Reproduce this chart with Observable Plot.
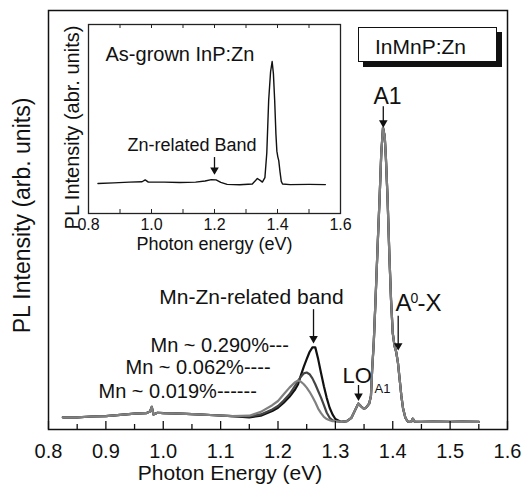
<!DOCTYPE html>
<html>
<head>
<meta charset="utf-8">
<script src="https://cdn.jsdelivr.net/npm/d3@7"></script>
<script src="https://cdn.jsdelivr.net/npm/@observablehq/plot@0.6"></script>
<style>
  body { margin: 0; background: #fff; }
  #wrap { position: relative; width: 524px; height: 487px; font-family: "Liberation Sans", Arial, sans-serif; }
  #inset { position: absolute; left: 55px; top: 14px; }
  #legend { position: absolute; left: 358px; top: 27px; width: 139px; height: 35px; box-sizing: border-box;
    border: 1.2px solid #111; box-shadow: 5px 5px 0 #111; background: #fff; font-size: 21px;
    padding: 7px 0 0 16px; line-height: normal; color: #111; }
</style>
</head>
<body>
<div id="wrap"><div id="main"></div><div id="inset"></div><div id="legend">InMnP:Zn</div></div>
<script>
// ---- main panel data ----
const seriesNames = ["Mn ~ 0.290%", "Mn ~ 0.062%", "Mn ~ 0.019%"];
const seriesColors = ["#111111", "#444444", "#808080"];

const lowEnergy    = [0.825, 0.85, 0.875, 0.90, 0.925, 0.95, 0.97, 0.977, 0.980, 0.983, 0.99, 1.00, 1.03, 1.06, 1.09, 1.12];
const lowIntensity = [2.9, 2.9, 3.1, 3.2, 3.5, 3.8, 3.9, 4.3, 5.4, 3.6, 4.0, 3.9, 3.8, 3.6, 3.4, 3.2];

const bandEnergy = [1.15, 1.17, 1.19, 1.20, 1.21, 1.22, 1.23, 1.235, 1.24, 1.245, 1.25, 1.255, 1.26, 1.265, 1.27, 1.275, 1.28, 1.285, 1.29, 1.295, 1.30];
const band290 = [2.9, 3.3, 4.4, 5.2, 6.4, 7.8, 9.6, 10.8, 13.0, 15.0, 16.8, 18.5, 19.6, 19.6, 16.8, 13.5, 10.3, 7.5, 5.2, 3.6, 2.5];
const band062 = [3.1, 3.6, 4.8, 5.6, 6.9, 8.4, 10.5, 11.6, 12.6, 13.4, 13.6, 13.2, 12.2, 10.8, 9.2, 7.6, 5.8, 4.0, 2.8, 2.2, 2.0];
const band019 = [3.3, 4.2, 5.8, 6.8, 8.4, 10.0, 11.3, 11.7, 11.4, 10.8, 10.0, 9.0, 7.8, 6.5, 5.0, 3.9, 3.0, 2.5, 2.2, 2.0, 2.0];

const highEnergy    = [1.31, 1.32, 1.328, 1.334, 1.340, 1.345, 1.350, 1.354, 1.359, 1.362, 1.364, 1.367, 1.370, 1.374, 1.377, 1.380, 1.383, 1.386, 1.388, 1.391, 1.394, 1.397, 1.400, 1.403, 1.406, 1.409, 1.412, 1.415, 1.418, 1.422, 1.426, 1.432, 1.435, 1.438, 1.45, 1.47, 1.50, 1.52, 1.55];
const highIntensity = [1.8, 2.0, 2.8, 4.5, 6.2, 5.5, 4.9, 5.3, 6.2, 8.0, 14, 21, 31, 45, 55, 66, 72, 70, 65, 55, 42, 31, 23, 20, 18.5, 16, 12, 8, 5, 2.8, 1.9, 1.8, 2.6, 1.9, 1.8, 1.9, 1.8, 1.9, 1.8];

const bands = [band290, band062, band019];

const majorTicks = [0.8, 0.9, 1.0, 1.1, 1.2, 1.3, 1.4, 1.5, 1.6];
const minorTicks = [0.85, 0.95, 1.05, 1.15, 1.25, 1.35, 1.45, 1.55];

// ---- inset data ----
const insetEnergy    = [0.83, 0.88, 0.93, 0.97, 0.98, 0.99, 1.04, 1.09, 1.14, 1.17, 1.19, 1.205, 1.22, 1.24, 1.28, 1.32, 1.336, 1.345, 1.352, 1.360, 1.366, 1.372, 1.378, 1.383, 1.387, 1.391, 1.395, 1.398, 1.401, 1.404, 1.408, 1.412, 1.416, 1.44, 1.50, 1.552];
const insetIntensity = [15.9, 16.2, 16.6, 16.8, 17.8, 16.6, 16.6, 16.4, 16.6, 17.2, 17.9, 17.8, 16.5, 15.4, 15.2, 15.6, 18.5, 17.5, 16.6, 19, 32, 60, 75, 80.4, 74, 60, 42, 33, 30, 28, 22, 17, 15.6, 15.3, 15.4, 15.3];
const insetTickLabels = [0.8, 1.0, 1.2, 1.4, 1.6];
const insetTicks = [0.9, 1.0, 1.1, 1.2, 1.3, 1.4, 1.5];

// ---- build rows ----
const rows = [];
seriesNames.forEach((name, s) => {
  lowEnergy.forEach((e, i) => rows.push({series: name, energy: e, intensity: lowIntensity[i]}));
  bandEnergy.forEach((e, i) => rows.push({series: name, energy: e, intensity: bands[s][i]}));
  highEnergy.forEach((e, i) => rows.push({series: name, energy: e, intensity: highIntensity[i]}));
});
const insetRows = insetEnergy.map((e, i) => ({energy: e, intensity: insetIntensity[i]}));

const FONT = "Liberation Sans, Arial, sans-serif";
const note = (t, e, v, o = {}) => Plot.text([t], {x: () => e, y: () => v, text: d => d, fill: "#111", lineAnchor: "bottom", ...o});
const arrowDown = (e, v1, v2) => [
  Plot.ruleX([0], {x: () => e, y1: () => v1, y2: () => v2, stroke: "#111", strokeWidth: 1.3}),
  Plot.dot([0], {x: () => e, y: () => v2, symbol: "triangle", rotate: 180, r: 3.2, fill: "#111", stroke: null, dy: -3})
];

const frameH = 487 - 10 - 58;
const main = Plot.plot({
  width: 524, height: 487,
  marginLeft: 48, marginRight: 17, marginTop: 10, marginBottom: 58,
  x: {domain: [0.8, 1.6], axis: null},
  y: {domain: [0, 100], axis: null},
  color: {domain: seriesNames, range: seriesColors},
  style: {fontFamily: FONT, background: "transparent"},
  marks: [
    Plot.line(rows, {x: "energy", y: "intensity", z: "series", stroke: "series", strokeWidth: 2.2, curve: "linear"}),
    Plot.frame({stroke: "#111", strokeWidth: 1.5}),
    Plot.tickX(majorTicks, {x: d => d, insetTop: frameH - 8, stroke: "#111", strokeWidth: 1.3}),
    Plot.tickX(minorTicks, {x: d => d, insetTop: frameH - 5, stroke: "#111", strokeWidth: 1.3}),
    Plot.text(majorTicks, {x: d => d, text: d => d.toFixed(1), frameAnchor: "bottom", dy: 28, lineAnchor: "bottom", fontSize: 20, fill: "#111"}),
    Plot.text(["Photon Energy (eV)"], {frameAnchor: "bottom", dx: -48, dy: 50, lineAnchor: "bottom", fontSize: 21, fill: "#111"}),
    Plot.text(["PL Intensity (arb. units)"], {frameAnchor: "left", textAnchor: "middle", lineAnchor: "middle", rotate: -90, dx: -25.5, dy: -4.5, fontSize: 23, fill: "#111"}),
    note("A1", 1.3908, 77.8, {fontSize: 23}),
    ...arrowDown(1.3835, 77.0, 72.5),
    note("Mn-Zn-related band", 1.1538, 30.07, {fontSize: 21}),
    ...arrowDown(1.2619, 28.6, 21.0),
    note("Mn ~ 0.290%---", 0.9778, 18.38, {fontSize: 20, textAnchor: "start"}),
    note("Mn ~ 0.062%----", 0.9342, 13.13, {fontSize: 20, textAnchor: "start"}),
    note("Mn ~ 0.019%------", 0.8871, 7.40, {fontSize: 20, textAnchor: "start"}),
    note("LO", 1.3124, 10.98, {fontSize: 22, textAnchor: "start"}),
    ...arrowDown(1.3403, 10.5, 7.3),
    note("A1", 1.3682, 8.83, {fontSize: 13, textAnchor: "start"}),
    note("A", 1.4048, 28.4, {fontSize: 24, textAnchor: "start"}),
    note("0", 1.4309, 30.3, {fontSize: 14, textAnchor: "start"}),
    note("-X", 1.4431, 28.4, {fontSize: 24, textAnchor: "start"}),
    ...arrowDown(1.4095, 27.0, 19.3)
  ]
});
document.getElementById("main").appendChild(main);

const iFrameH = 245 - 10 - 46;
const inset = Plot.plot({
  width: 300, height: 245,
  marginLeft: 33, marginRight: 15, marginTop: 10, marginBottom: 46,
  x: {domain: [0.8, 1.6], axis: null},
  y: {domain: [0, 100], axis: null},
  style: {fontFamily: FONT, background: "transparent"},
  marks: [
    Plot.line(insetRows, {x: "energy", y: "intensity", stroke: "#111", strokeWidth: 1.4}),
    Plot.frame({stroke: "#222", strokeWidth: 1.3}),
    Plot.tickX(insetTicks, {x: d => d, insetTop: iFrameH - 4, stroke: "#222"}),
    Plot.tickX(insetTicks, {x: d => d, insetBottom: iFrameH - 4, stroke: "#222"}),
    Plot.text(insetTickLabels, {x: d => d, text: d => d.toFixed(1), frameAnchor: "bottom", dy: 16, lineAnchor: "bottom", fontSize: 16, fill: "#111"}),
    Plot.text(["Photon energy (eV)"], {frameAnchor: "bottom", dy: 36, lineAnchor: "bottom", fontSize: 18, fill: "#111"}),
    Plot.text(["PL Intensity (abr. units)"], {frameAnchor: "left", textAnchor: "middle", lineAnchor: "middle", rotate: -90, dx: -16, dy: 8.5, fontSize: 20, fill: "#111"}),
    note("As-grown InP:Zn", 0.854, 80.95, {fontSize: 20, textAnchor: "start"}),
    note("Zn-related Band", 1.1286, 33.3, {fontSize: 18}),
    ...arrowDown(1.2, 29.6, 21.5)
  ]
});
document.getElementById("inset").appendChild(inset);
</script>
</body>
</html>
